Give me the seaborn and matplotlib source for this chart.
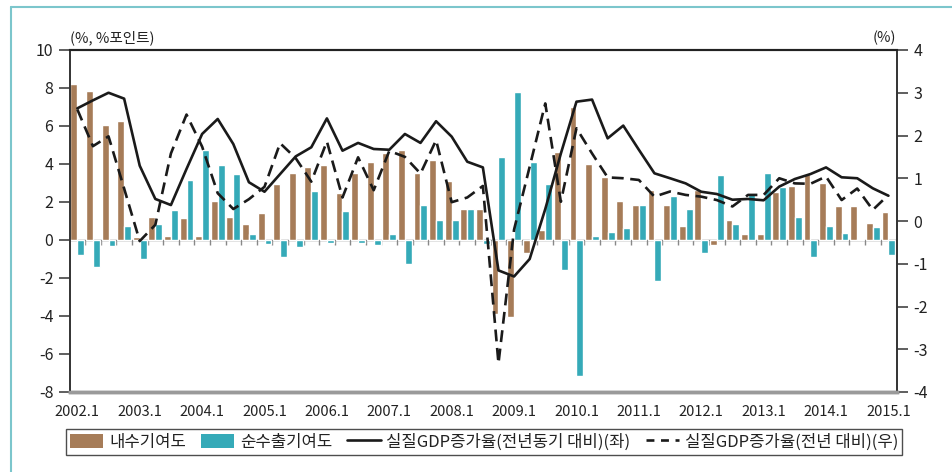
import numpy as np
import pandas as pd
import matplotlib
matplotlib.use("Agg")
import matplotlib.pyplot as plt
import seaborn as sns
from matplotlib.patches import Patch
from matplotlib.lines import Line2D

# ---------------- data ----------------
quarters = [f"{y}.{q}" for y in range(2002, 2016) for q in range(1, 5)][:53]
year_ticks = ["2002.1", "2003.1", "2004.1", "2005.1", "2006.1", "2007.1", "2008.1",
              "2009.1", "2010.1", "2011.1", "2012.1", "2013.1", "2014.1", "2015.1"]

domestic = [8.21, 7.84, 6.05, 6.26, 0.14, 1.21, 0.21, 1.16, 0.21, 2.05, 1.21, 0.84,
            1.42, 2.95, 3.53, 3.86, 3.95, 2.47, 3.53, 4.11, 4.58, 4.74, 3.53, 4.21,
            3.11, 1.63, 1.63, -3.89, -4.04, -0.66, 0.53, 4.61, 7.00, 4.00, 3.33, 2.05,
            1.84, 2.63, 1.84, 0.74, 2.63, -0.25, 1.05, 0.32, 0.32, 2.51, 2.86, 3.47,
            3.00, 1.79, 1.79, 0.89, 1.47]
net_export = [-0.77, -1.40, -0.30, 0.74, -0.98, 0.84, 1.58, 3.16, 4.74, 3.95, 3.47, 0.32,
              -0.21, -0.89, -0.35, 2.58, -0.14, 1.53, -0.14, -0.25, 0.32, -1.25, 1.84, 1.05,
              1.05, 1.63, -0.19, 4.37, 7.78, 4.10, 2.95, -1.56, -7.17, 0.21, 0.42, 0.63,
              1.84, -2.14, 2.32, 1.61, -0.67, 3.42, 0.84, 2.47, 3.53, 2.79, 1.21, -0.88,
              0.74, 0.37, 0.05, 0.68, -0.77]
gdp_yoy = [6.93, 7.35, 7.75, 7.44, 3.91, 2.16, 1.84, 3.74, 5.58, 6.37, 5.05, 3.04,
           2.54, 3.47, 4.40, 4.88, 6.40, 4.70, 5.11, 4.79, 4.75, 5.58, 5.11, 6.25,
           5.44, 4.12, 3.82, -1.60, -1.92, -1.00, 1.63, 4.55, 7.28, 7.39, 5.35, 6.02,
           4.75, 3.51, 3.25, 2.98, 2.54, 2.42, 2.12, 2.16, 2.09, 2.81, 3.21, 3.47,
           3.82, 3.30, 3.25, 2.72, 2.33]
gdp_qoq = [2.61, 1.75, 1.98, 0.76, -0.47, -0.09, 1.58, 2.49, 1.74, 0.65, 0.28, 0.51,
           0.80, 1.82, 1.47, 0.92, 1.86, 0.55, 1.49, 0.72, 1.64, 1.50, 1.11, 1.89,
           0.44, 0.55, 0.82, -3.33, -0.20, 1.27, 2.75, 0.45, 2.17, 1.58, 1.02, 1.00,
           0.96, 0.57, 0.69, 0.61, 0.57, 0.49, 0.34, 0.61, 0.61, 1.00, 0.88, 0.87,
           1.04, 0.49, 0.76, 0.26, 0.61]

series_names = ["내수기여도", "순수출기여도",
                "실질GDP증가율(전년동기 대비)(좌)", "실질GDP증가율(전년 대비)(우)"]

BROWN = "#A67C58"
TEAL = "#35AAB8"

# ---------------- style ----------------
sns.set_style("white")
plt.rcParams["font.family"] = ["Noto Sans CJK KR", "DejaVu Sans"]
plt.rcParams["axes.unicode_minus"] = False

W, H = 952, 472
fig = plt.figure(figsize=(W / 100, H / 100), dpi=100)
fig.patch.set_facecolor("white")
ax = fig.add_axes([70 / W, 1 - 392 / H, (897 - 70) / W, (392 - 50) / H])

df = pd.DataFrame({
    "q": quarters * 2,
    "val": domestic + net_export,
    "series": [series_names[0]] * len(quarters) + [series_names[1]] * len(quarters),
})

idx = np.arange(len(quarters))

# zero line and quarter boundary ticks
ax.axhline(0, color="#555555", lw=1.0, zorder=1)
ax.vlines(idx[:-1] + 0.5, -0.25, 0, color="#888888", lw=1.0, zorder=1)

sns.barplot(data=df, x="q", y="val", hue="series", order=quarters,
            hue_order=series_names[:2], palette=[BROWN, TEAL], width=0.88,
            dodge=True, ax=ax, legend=False, saturation=1, errorbar=None, zorder=2)

sns.lineplot(x=idx, y=gdp_yoy, ax=ax, color="#1a1a1a", lw=1.9, zorder=4)

ax2 = ax.twinx()
sns.lineplot(x=idx, y=gdp_qoq, ax=ax2, color="#1a1a1a", lw=1.9, zorder=4)
ax2.lines[0].set_dashes([4.5, 2.5])

ax.set_xlim(-0.47, 52.55)
ax.set_ylim(-8, 10)
ax2.set_ylim(-4, 4)
ax.set_yticks(np.arange(-8, 11, 2))
ax2.set_yticks(np.arange(-4, 5, 1))
ax.set_xticks(np.arange(0, 53, 4))
ax.set_xticklabels(year_ticks)
ax.set_xlabel("")
ax.set_ylabel("")
ax2.set_ylabel("")

for a in (ax, ax2):
    a.set_facecolor("none")
    a.spines["top"].set_color("#222222")
    a.spines["top"].set_linewidth(1.5)
    a.spines["bottom"].set_color("#9a9a9a")
    a.spines["bottom"].set_linewidth(2.5)
    a.spines["left"].set_color("#333333")
    a.spines["left"].set_linewidth(1.2)
    a.spines["right"].set_color("#333333")
    a.spines["right"].set_linewidth(1.2)

ax.tick_params(axis="y", direction="out", length=8, width=1.1, color="#333333",
               labelsize=11.5, labelcolor="#222222", pad=4, left=True)
ax2.tick_params(axis="y", direction="out", length=8, width=1.1, color="#333333",
                labelsize=11.5, labelcolor="#222222", pad=4, right=True)
ax.tick_params(axis="x", length=0, labelsize=10.5, labelcolor="#222222", pad=9)

fig.text(70 / W, 1 - 38 / H, "(%, %포인트)", fontsize=10.5, color="#222222",
         ha="left", va="center")
fig.text(896 / W, 1 - 38 / H, "(%)", fontsize=10.5, color="#222222",
         ha="right", va="center")

# outer frame
fig.add_artist(Line2D([11 / W, 1], [1 - 7 / H, 1 - 7 / H], transform=fig.transFigure,
                      color="#7cc6cc", lw=1.5))
fig.add_artist(Line2D([11 / W, 11 / W], [0, 1 - 7 / H], transform=fig.transFigure,
                      color="#7cc6cc", lw=1.5))

handles = [Patch(facecolor=BROWN, edgecolor="none"),
           Patch(facecolor=TEAL, edgecolor="none"),
           Line2D([], [], color="#1a1a1a", lw=1.9),
           Line2D([], [], color="#1a1a1a", lw=1.9, dashes=[3, 2.5])]
leg = fig.legend(handles, series_names, loc="center", bbox_to_anchor=(484 / W, 1 - 442 / H),
                 ncol=4, frameon=True, fancybox=False, edgecolor="#222222",
                 fontsize=12, handlelength=2.0, handleheight=0.9, handletextpad=0.35,
                 columnspacing=0.9, borderpad=0.25)
leg.get_frame().set_linewidth(1.0)
for t in leg.get_texts():
    t.set_color("#222222")

fig.savefig("out.png", dpi=100, facecolor="white")
